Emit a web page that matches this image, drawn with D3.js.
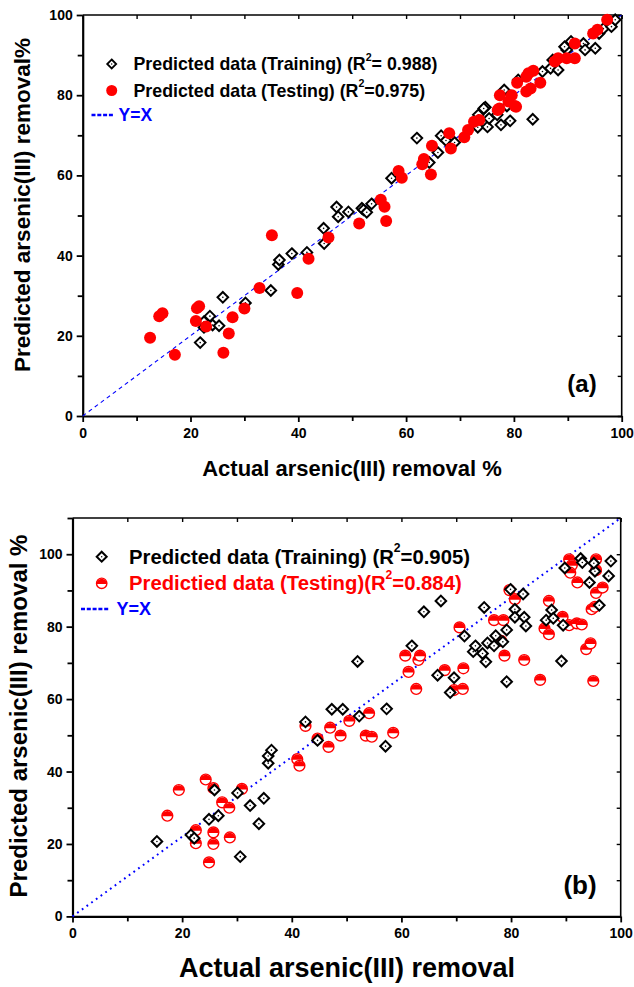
<!DOCTYPE html>
<html><head><meta charset="utf-8">
<script src="https://cdn.jsdelivr.net/npm/d3@7"></script>
<style>body{margin:0;background:#fff}svg{display:block}text{font-family:"Liberation Sans",Arial,sans-serif;font-weight:bold}</style>
</head><body>
<svg id="c" width="634" height="987"></svg>
<script>
// ---------- DATA ----------
// Panel (a)
const aTrainX = [21.8,22.5,22.5,23.6,24.1,25.3,26.0,30.2,34.9,36.3,36.5,38.8,41.6,44.7,44.8,47.1,47.4,49.3,51.8,52.1,52.7,53.6,57.3,62.0,64.3,65.9,66.5,67.4,69.0,73.4,73.3,74.7,75.1,75.4,76.9,77.6,79.3,83.5,78.7,74.4,78.2,80.8,85.3,86.8,87.2,88.2,89.8,90.6,92.9,93.2,95.1,95.8,96.6,98.1,98.8,89.4];
const aTrainY = [18.3,22.1,23.5,24.9,22.7,22.5,29.6,28.2,31.3,37.8,38.9,40.5,40.8,46.8,43.0,52.1,49.7,50.9,51.8,51.4,50.8,52.9,59.3,69.3,63.2,65.7,69.9,68.7,68.2,75.1,72.0,77.0,72.1,74.2,75.1,72.6,73.6,74.0,77.3,76.7,81.3,83.8,85.9,86.7,88.8,86.3,91.3,93.4,92.9,91.3,91.7,95.4,96.6,97.1,98.8,92.1];
const aTestX = [12.5,14.2,14.8,17.1,21.0,21.2,21.6,22.9,26.1,27.1,27.8,30.0,32.8,35.1,39.8,41.9,45.6,51.3,55.3,56.0,56.3,58.6,59.2,63.0,63.3,64.6,64.8,68.0,68.3,70.8,71.5,72.6,73.6,77.3,79.0,80.2,77.0,77.4,79.6,80.4,80.6,82.3,83.1,83.6,82.7,82.3,84.9,88.2,89.8,91.3,91.3,94.7,95.5,97.3,87.6];
const aTestY = [19.5,24.9,25.6,15.3,23.7,26.9,27.4,22.3,15.8,20.6,24.6,26.8,31.9,45.1,30.7,39.2,44.5,48.0,53.9,52.2,48.6,61.1,59.4,62.8,64.1,60.2,67.4,70.5,66.7,69.5,71.3,73.4,73.8,76.7,78.4,77.3,76.3,80.0,80.0,77.1,83.1,84.6,81.7,86.1,85.5,80.9,83.1,89.2,89.2,89.2,92.9,95.4,96.3,98.8,88.4];
// Panel (b)
const bTrainX = [15.4,21.6,22.2,24.9,25.9,26.6,30.1,30.6,32.4,34.0,34.9,35.7,35.7,36.3,42.5,44.7,47.3,49.3,52.0,52.3,57.3,57.1,61.9,64.1,67.2,66.6,68.9,69.6,71.5,73.1,73.5,74.8,75.1,75.4,75.7,76.9,77.2,78.5,79.2,79.2,79.9,80.7,80.7,82.2,82.4,82.7,86.4,87.4,87.7,89.2,89.5,89.8,92.7,93.0,94.3,95.3,95.1,96.1,97.8,98.2];
const bTrainY = [20.7,22.5,21.6,26.8,34.9,27.8,34.1,16.5,30.6,25.6,32.6,42.3,44.3,45.9,53.7,48.6,57.2,57.2,70.4,55.3,57.3,47.0,74.7,84.1,87.1,66.6,61.8,65.9,77.4,73.1,74.7,72.6,85.3,70.3,75.5,74.7,77.5,75.8,79.1,64.8,90.3,84.8,82.6,89.0,82.6,80.2,81.8,84.6,82.3,70.5,80.4,96.2,98.8,97.7,92.2,95.3,97.5,85.9,94.0,98.1];
const bTestX = [17.3,19.4,22.5,22.5,24.3,24.9,25.7,25.7,25.7,27.3,28.6,28.7,30.9,41.0,41.4,42.5,44.7,46.7,47.0,48.9,50.5,53.5,54.1,54.6,58.5,60.7,61.3,62.7,63.1,63.4,67.9,69.6,71.2,71.3,70.6,76.9,78.6,78.2,78.8,79.7,80.7,82.4,85.3,86.1,86.9,86.9,89.4,90.6,92.0,92.9,90.6,91.1,90.8,92.1,93.7,94.5,95.0,94.7,95.3,95.5,95.5,95.5,96.7];
const bTestY = [27.8,34.9,23.8,20.2,37.8,14.9,35.4,23.2,20.0,31.5,30.0,21.8,35.2,43.4,41.6,52.6,49.1,46.8,52.1,49.9,54.0,49.9,56.1,49.6,50.7,72.0,67.5,62.8,70.8,72.0,68.0,62.5,62.8,68.5,79.8,81.8,81.8,76.1,72.0,90.1,87.6,70.8,65.3,79.5,87.1,77.9,82.7,80.4,80.9,80.6,98.6,97.0,94.9,92.2,73.8,75.4,65.0,84.8,85.5,89.3,98.6,95.6,90.8];
const refLineA = [[0,0],[100,100]];
const refLineB = [[0,0],[100,110]];
const xTicks = [0,20,40,60,80,100];
const xMinor = [10,30,50,70,90];
const yTicksA = [0,20,40,60,80,100];
const yMinorA = [10,30,50,70,90];
const yTicksB = [0,20,40,60,80,100];
const yMinorB = [10,30,50,70,90,110];
const legendA = ["Predicted data (Training) (R", "2", "= 0.988)", "Predicted data (Testing) (R", "2", "=0.975)", "Y=X"];
const legendB = ["Predicted data (Training) (R", "2", "=0.905)", "Predictied data (Testing)(R", "2", "=0.884)", "Y=X"];

// ---------- DRAW ----------
const svg = d3.select("#c");

function zip(xs, ys){ return xs.map((x,i)=>[x, ys[i]]); }
const diamondPath = "M0,-5.3L5.3,0L0,5.3L-5.3,0Z";

function panel(o){
  const g = svg.append("g");
  const x = d3.scaleLinear([0,100],[o.x0,o.x1]);
  const y = d3.scaleLinear([0,o.ymax],[o.y0,o.y1]);
  g.append("line").attr("x1",o.x0).attr("x2",o.x1).attr("y1",o.y1).attr("y2",o.y1).attr("stroke","#000").attr("stroke-width",1.6);
  g.append("line").attr("x1",o.x1).attr("x2",o.x1).attr("y1",o.y1).attr("y2",o.y0).attr("stroke","#000").attr("stroke-width",1.6);
  g.append("g").attr("transform",`translate(0,${o.y1})`)
    .call(d3.axisTop(x).tickValues(xTicks.concat(xMinor)).tickSize(-4).tickFormat(""))
    .call(s=>{s.select(".domain").remove(); s.selectAll("line").attr("stroke-width",1.4);});
  g.append("g").attr("transform",`translate(${o.x1},0)`)
    .call(d3.axisRight(y).tickValues(o.yTicks.concat(o.yMinor)).tickSize(-4).tickFormat(""))
    .call(s=>{s.select(".domain").remove(); s.selectAll("line").attr("stroke-width",1.4);});
  const bx = g.append("g").attr("transform",`translate(0,${o.y0})`)
    .call(d3.axisBottom(x).tickValues(xTicks).tickSize(6).tickPadding(6).tickSizeOuter(0));
  bx.select(".domain").attr("stroke-width",2.2);
  bx.selectAll("line").attr("stroke-width",1.8);
  bx.selectAll("text").attr("font-size",o.tickFont).attr("fill","#000").style("font-family","Liberation Sans, Arial").style("font-weight","bold");
  g.append("g").attr("transform",`translate(0,${o.y0})`)
    .call(d3.axisBottom(x).tickValues(xMinor).tickSize(5).tickFormat(""))
    .call(s=>{s.select(".domain").remove(); s.selectAll("line").attr("stroke-width",1.8);});
  const ly = g.append("g").attr("transform",`translate(${o.x0},0)`)
    .call(d3.axisLeft(y).tickValues(o.yTicks).tickSize(6).tickPadding(4).tickSizeOuter(0));
  ly.select(".domain").attr("stroke-width",2.2);
  ly.selectAll("line").attr("stroke-width",1.8);
  ly.selectAll("text").attr("font-size",o.tickFont).attr("fill","#000").style("font-family","Liberation Sans, Arial").style("font-weight","bold");
  g.append("g").attr("transform",`translate(${o.x0},0)`)
    .call(d3.axisLeft(y).tickValues(o.yMinor).tickSize(5).tickFormat(""))
    .call(s=>{s.select(".domain").remove(); s.selectAll("line").attr("stroke-width",1.8);});
  g.append("path").datum(o.ref)
    .attr("d", d3.line().x(d=>x(d[0])).y(d=>y(d[1])))
    .attr("fill","none").attr("stroke","#0000ff").attr("stroke-width",o.refW).attr("stroke-dasharray",o.refDash);
  return {g,x,y};
}

// ---- Panel (a)
const A = panel({x0:82.7,x1:621.7,y0:416,y1:15,ymax:100,yTicks:yTicksA,yMinor:yMinorA,ref:refLineA,refW:1.1,refDash:"4,3.5",tickFont:14});
function drawDiamonds(p, data){
  const s = p.g.append("g");
  data.forEach(d=>{
    const gg = s.append("g").attr("transform",`translate(${p.x(d[0])},${p.y(d[1])})`);
    gg.append("path").attr("d",diamondPath).attr("fill","#fff").attr("stroke","#000").attr("stroke-width",2);
    gg.append("circle").attr("r",0.8).attr("fill","#000");
  });
}
drawDiamonds(A, zip(aTrainX,aTrainY));
A.g.append("g").selectAll("circle").data(zip(aTestX,aTestY)).join("circle")
  .attr("cx",d=>A.x(d[0])).attr("cy",d=>A.y(d[1])).attr("r",6).attr("fill","#ff0000");

function legendText(gx, gy, parts, size, color){
  const t = svg.append("text").attr("x",gx).attr("y",gy).attr("font-size",size).attr("fill",color).attr("dominant-baseline","central");
  t.append("tspan").text(parts[0]);
  t.append("tspan").attr("font-size",size*0.6).attr("dy",-size*0.42).text(parts[1]);
  t.append("tspan").attr("dy",size*0.42).text(parts[2]);
}
{
  const lg = svg.append("g");
  lg.append("path").attr("d","M0,-4.5L4.5,0L0,4.5L-4.5,0Z").attr("transform","translate(111.7,64)").attr("fill","#fff").attr("stroke","#000").attr("stroke-width",1.8);
  lg.append("circle").attr("cx",111.7).attr("cy",64).attr("r",0.7).attr("fill","#000");
  legendText(133.5, 64, legendA.slice(0,3), 17.8, "#000");
  lg.append("circle").attr("cx",111.7).attr("cy",90.5).attr("r",5.5).attr("fill","#ff0000");
  legendText(133.5, 90.5, legendA.slice(3,6), 17.8, "#000");
  lg.append("line").attr("x1",91.5).attr("x2",113.5).attr("y1",115).attr("y2",115).attr("stroke","#0000ff").attr("stroke-width",2.5).attr("stroke-dasharray","4,1.8");
  svg.append("text").attr("x",118.5).attr("y",115).attr("dominant-baseline","central").attr("font-size",17.5).attr("fill","#0000ff").text(legendA[6]);
}
svg.append("text").attr("x",582).attr("y",383).attr("text-anchor","middle").attr("dominant-baseline","central").attr("font-size",24).attr("fill","#000").text("(a)");
svg.append("text").attr("x",352).attr("y",468).attr("text-anchor","middle").attr("dominant-baseline","central").attr("font-size",22).attr("fill","#000").text("Actual arsenic(III) removal %");
svg.append("text").attr("transform","translate(22,205) rotate(-90)").attr("text-anchor","middle").attr("dominant-baseline","central").attr("font-size",22.5).attr("fill","#000").text("Predicted arsenic(III) removal%");

// ---- Panel (b)
const B = panel({x0:72.5,x1:620.7,y0:916.4,y1:518,ymax:110,yTicks:yTicksB,yMinor:yMinorB,ref:refLineB,refW:2,refDash:"1.8,4",tickFont:14});
function halfCircle(s, cx, cy, r){
  const gg = s.append("g").attr("transform",`translate(${cx},${cy})`);
  gg.append("circle").attr("r",r).attr("fill","#fff").attr("stroke","#ff0000").attr("stroke-width",1.4);
  gg.append("path").attr("d",`M${-r},0.6A${r},${r} 0 0 1 ${r},0.6Z`).attr("fill","#ff0000");
}
{
  const s = B.g.append("g");
  zip(bTestX,bTestY).forEach(d=>halfCircle(s, B.x(d[0]), B.y(d[1]), 5.4));
}
drawDiamonds(B, zip(bTrainX,bTrainY));
{
  const lg = svg.append("g");
  lg.append("path").attr("d","M0,-5L5,0L0,5L-5,0Z").attr("transform","translate(101.7,556.7)").attr("fill","#fff").attr("stroke","#000").attr("stroke-width",2);
  lg.append("circle").attr("cx",101.7).attr("cy",556.7).attr("r",0.7).attr("fill","#000");
  legendText(129, 556.7, legendB.slice(0,3), 20.3, "#000");
  halfCircle(lg, 101.7, 583.3, 5.2);
  legendText(129, 583.3, legendB.slice(3,6), 20.3, "#ff0000");
  lg.append("line").attr("x1",81).attr("x2",110).attr("y1",609).attr("y2",609).attr("stroke","#0000ff").attr("stroke-width",2.5).attr("stroke-dasharray","4,1.8");
  svg.append("text").attr("x",116.5).attr("y",609).attr("dominant-baseline","central").attr("font-size",18).attr("fill","#0000ff").text(legendB[6]);
}
svg.append("text").attr("x",580).attr("y",885).attr("text-anchor","middle").attr("dominant-baseline","central").attr("font-size",26).attr("fill","#000").text("(b)");
svg.append("text").attr("x",347).attr("y",968).attr("text-anchor","middle").attr("dominant-baseline","central").attr("font-size",27).attr("fill","#000").text("Actual arsenic(III) removal");
svg.append("text").attr("transform","translate(18,716) rotate(-90)").attr("text-anchor","middle").attr("dominant-baseline","central").attr("font-size",24).attr("fill","#000").text("Predicted arsenic(III) removal %");
</script>
</body></html>
